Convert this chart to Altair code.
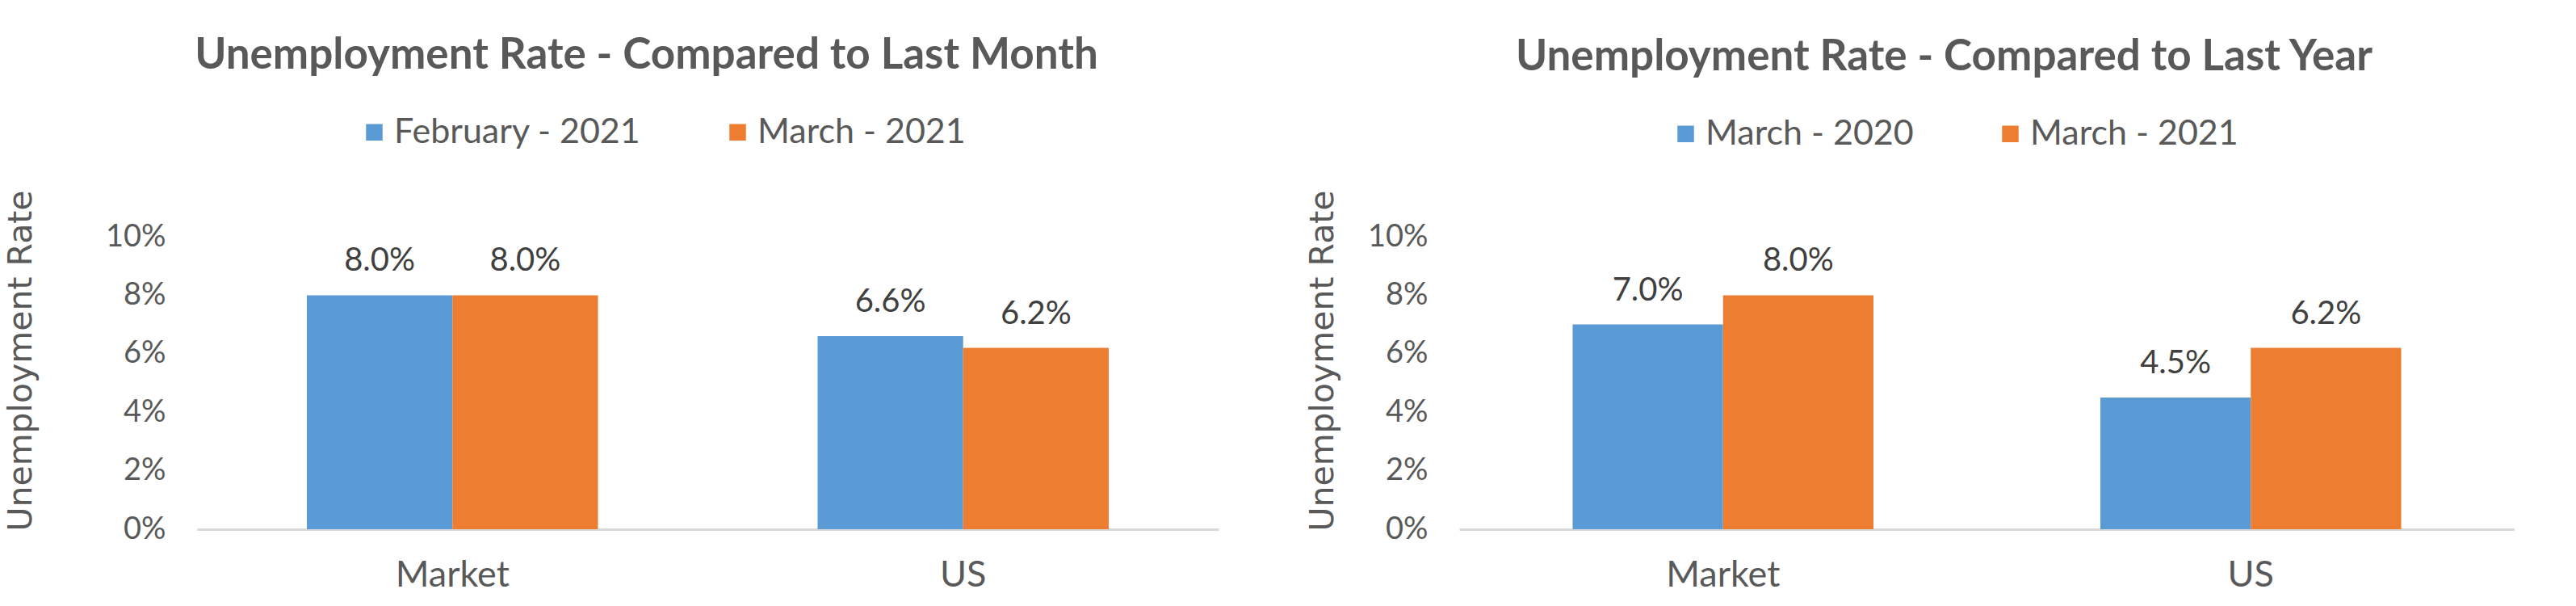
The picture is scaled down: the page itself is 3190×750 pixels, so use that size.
import altair as alt
import pandas as pd

categories = ["Market", "US"]
y_ticks = [0, 0.02, 0.04, 0.06, 0.08, 0.10]

month_periods = ["February - 2021", "March - 2021"]
month_prev = [0.080, 0.066]
month_curr = [0.080, 0.062]

year_periods = ["March - 2020", "March - 2021"]
year_prev = [0.070, 0.045]
year_curr = [0.080, 0.062]

colors = ["#5B9BD5", "#ED7D31"]
TEXT = "#595959"


def make_df(periods, prev, curr):
    rows = []
    for i, c in enumerate(categories):
        rows.append({"region": c, "period": periods[0], "rate": prev[i]})
        rows.append({"region": c, "period": periods[1], "rate": curr[i]})
    return pd.DataFrame(rows)


def panel(periods, prev, curr, title, width, title_dx, legend_x, legend_y, title_pad):
    df = make_df(periods, prev, curr)
    base = alt.Chart(df)
    x = alt.X(
        "region:N",
        sort=categories,
        title=None,
        scale=alt.Scale(paddingInner=0.43, paddingOuter=0.215),
        axis=alt.Axis(
            labelAngle=0,
            labelFont="Lato",
            labelFontSize=45,
            labelColor=TEXT,
            labelPadding=34,
            domainColor="#D9D9D9",
            domainWidth=3,
            ticks=False,
            grid=False,
        ),
    )
    xo = alt.XOffset("period:N", sort=periods, scale=alt.Scale(paddingInner=0, paddingOuter=0))
    y = alt.Y(
        "rate:Q",
        scale=alt.Scale(domain=[0, 0.10]),
        axis=alt.Axis(
            values=y_ticks,
            format=".0%",
            labelFont="Lato",
            labelFontSize=38,
            labelColor=TEXT,
            labelPadding=39,
            ticks=False,
            domain=False,
            grid=False,
            title="Unemployment Rate",
            titleFont="DejaVu Sans",
            titleFontSize=41,
            titleFontWeight="normal",
            titleColor=TEXT,
            titlePadding=title_pad,
            titleY=153,
        ),
    )
    color = alt.Color(
        "period:N",
        sort=periods,
        scale=alt.Scale(domain=periods, range=colors),
        legend=alt.Legend(
            title=None,
            orient="none",
            legendX=legend_x,
            legendY=legend_y,
            direction="horizontal",
            symbolType="square",
            symbolSize=420,
            symbolStrokeWidth=0,
            labelFont="Lato",
            labelFontSize=43,
            labelColor=TEXT,
            labelOffset=3,
            labelLimit=500,
            columnPadding=98,
            padding=0,
        ),
    )
    bars = base.mark_bar().encode(x=x, xOffset=xo, y=y, color=color)
    labels = base.mark_text(
        font="Lato", fontSize=40, color="#404040", baseline="alphabetic", dy=-30
    ).encode(x=x, xOffset=xo, y=y, text=alt.Text("rate:Q", format=".1%"))
    return alt.layer(bars, labels).properties(
        width=width,
        height=362,
        title=alt.TitleParams(
            text=title,
            font="Lato",
            fontSize=53,
            fontWeight="bold",
            color=TEXT,
            anchor="middle",
            frame="group",
            dx=title_dx,
            offset=46,
        ),
    )


left = panel(month_periods, month_prev, month_curr,
             "Unemployment Rate - Compared to Last Month",
             1265, -76, 198, -151, 83)
right = panel(year_periods, year_prev, year_curr,
              "Unemployment Rate - Compared to Last Year",
              1307, -53, 259, -149, 34)

chart = (
    alt.hconcat(left, right, spacing=108)
    .resolve_scale(x="independent", y="independent", color="independent", xOffset="independent")
    .properties(padding={"left": 5, "top": 43, "right": 0, "bottom": 0}, background="white")
    .configure_view(stroke=None)
)

chart.save("out.html", embed_options={"renderer": "svg", "actions": False})
